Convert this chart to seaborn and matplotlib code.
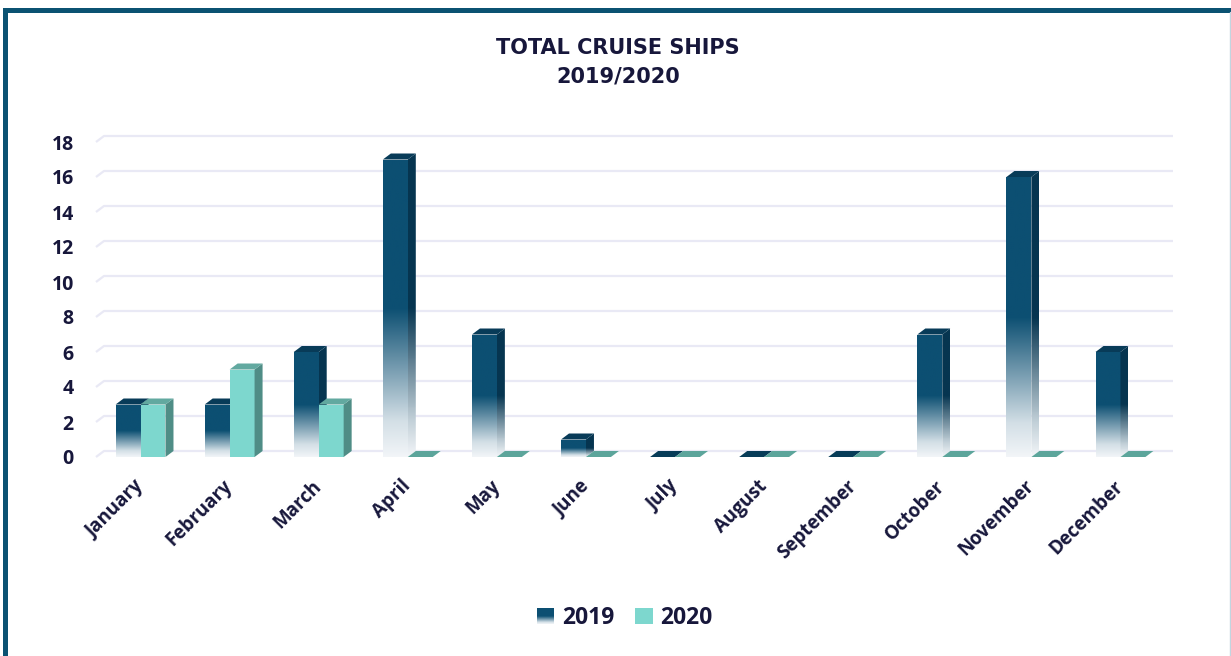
import numpy as np
import pandas as pd
import matplotlib
matplotlib.use("Agg")
import matplotlib.pyplot as plt
import seaborn as sns
from matplotlib.patches import Polygon, Rectangle
from matplotlib.colors import LinearSegmentedColormap
from matplotlib.legend_handler import HandlerBase

months = ["January", "February", "March", "April", "May", "June",
          "July", "August", "September", "October", "November", "December"]
ships_2019 = [3, 3, 6, 17, 7, 1, 0, 0, 0, 7, 16, 6]
ships_2020 = [3, 5, 3, 0, 0, 0, 0, 0, 0, 0, 0, 0]
years = ["2019", "2020"]
y_ticks = list(range(0, 20, 2))

df = pd.DataFrame({
    "Month": months * 2,
    "Year": [years[0]] * 12 + [years[1]] * 12,
    "Ships": ships_2019 + ships_2020,
})

W, H = 1231, 656
DX, DY = 8, 6  # fake 3d depth, pixels
TXT = "#17173b"

sns.set_theme(style="white")
plt.rcParams["font.family"] = ["Open Sans", "DejaVu Sans"]

fig = plt.figure(figsize=(W / 100, H / 100), dpi=100)
fig.patch.set_facecolor("white")
ax = fig.add_axes([96 / W, 1 - 457 / H, 1069 / W, 315 / H])

pal = {"2019": "#0c4f72", "2020": "#7dd7ce"}
sns.barplot(data=df, x="Month", y="Ships", hue="Year", palette=pal,
            width=0.56, saturation=1, legend=False, ax=ax, zorder=2,
            edgecolor="none", linewidth=0)
ax.set_xlim(-0.5, 11.5)
ax.set_ylim(0, 18)
ax.set_autoscale_on(False)
sns.despine(ax=ax, left=True, bottom=True)
ax.set_xlabel("")
ax.set_ylabel("")

grad_2019 = LinearSegmentedColormap.from_list(
    "g19", [(0.0, "#f2f5f8"), (0.12, "#d3dfe6"), (0.5, "#0c4f72"), (1.0, "#0c4f72")])
grad_side = LinearSegmentedColormap.from_list(
    "gs19", [(0.0, "#f2f5f8"), (0.12, "#c2d0d8"), (0.5, "#063550"), (1.0, "#063550")])

to_px = ax.transData.transform
to_data = ax.transData.inverted().transform

# back-wall gridlines
for v in y_ticks:
    fx, fy = to_px((-0.5, v))
    rx, _ = to_px((11.5, v))
    pts = to_data([(fx, fy), (fx + DX, fy + DY), (rx + DX, fy + DY)])
    ax.plot(pts[:, 0], pts[:, 1], color="#e9e9f5", lw=1.6, zorder=0.5,
            clip_on=False, solid_capstyle="butt")

styles = {
    "2019": dict(top="#083b58", side=None, flat="#073c58"),
    "2020": dict(top="#62a9a0", side="#4f8d86", flat="#5ca59b"),
}

for year, cont in zip(years, ax.containers):
    st = styles[year]
    z = 2 if year == "2019" else 3
    for rect in cont.patches:
        x0, w, h = rect.get_x(), rect.get_width(), rect.get_height()
        px0, py0 = to_px((x0, 0))
        px1, py1 = to_px((x0 + w, h))
        rect.set_zorder(z)
        top = Polygon(to_data([(px0, py1), (px1, py1), (px1 + DX, py1 + DY), (px0 + DX, py1 + DY)]),
                      closed=True, facecolor=st["top"] if h > 0 else st["flat"],
                      edgecolor="none", zorder=z + 0.2)
        ax.add_patch(top)
        if h <= 0:
            continue
        side_pts = to_data([(px1, py0), (px1, py1), (px1 + DX, py1 + DY), (px1 + DX, py0 + DY)])
        side = Polygon(side_pts, closed=True, edgecolor="none",
                       facecolor=st["side"] if st["side"] else "none", zorder=z + 0.1)
        ax.add_patch(side)
        if year == "2019":
            rect.set_facecolor("none")
            g = np.linspace(0, 1, 256).reshape(-1, 1)
            im = ax.imshow(g, cmap=grad_2019, vmin=0, vmax=1, origin="lower",
                           extent=(x0, x0 + w, 0, h), aspect="auto", zorder=z,
                           interpolation="bilinear")
            im.set_clip_path(rect)
            ytop = side_pts[:, 1].max()
            gs = np.clip(np.linspace(0, ytop / h, 256), 0, 1).reshape(-1, 1)
            im2 = ax.imshow(gs, cmap=grad_side, vmin=0, vmax=1, origin="lower",
                            extent=(side_pts[:, 0].min(), side_pts[:, 0].max(), 0, ytop),
                            aspect="auto", zorder=z + 0.1, interpolation="bilinear")
            im2.set_clip_path(side)

ax.set_xlim(-0.5, 11.5)
ax.set_ylim(0, 18)

ax.set_yticks(y_ticks)
ax.tick_params(axis="y", length=0, pad=16, labelsize=14, labelcolor=TXT)
ax.set_xticks(range(len(months)))
ax.set_xticklabels(months, rotation=45, ha="right", va="center",
                   rotation_mode="anchor", fontsize=13.5)
ax.tick_params(axis="x", length=0, pad=19, labelcolor=TXT)
for lab in ax.get_xticklabels() + ax.get_yticklabels():
    lab.set_fontweight("bold")

fig.text(618 / W, 1 - 62 / H, "TOTAL CRUISE SHIPS\n2019/2020", ha="center", va="center",
         fontsize=15, fontweight="bold", color=TXT, linespacing=1.5,
         family=["DejaVu Sans"])


class GradientHandler(HandlerBase):
    def create_artists(self, legend, orig_handle, xdescent, ydescent,
                       width, height, fontsize, trans):
        n = 16
        arts = []
        for i in range(n):
            c = grad_2019((i + 0.5) / n)
            arts.append(Rectangle((-xdescent, -ydescent + i * height / n), width,
                                  height / n * 1.05, facecolor=c, edgecolor="none",
                                  transform=trans))
        return arts


h19 = Rectangle((0, 0), 1, 1, facecolor=pal["2019"])
h20 = Rectangle((0, 0), 1, 1, facecolor=pal["2020"], edgecolor="none")
fig.legend(handles=[h19, h20], labels=years, loc="center",
           bbox_to_anchor=(625 / W, 1 - 618 / H), ncol=2, frameon=False,
           handlelength=0.75, handleheight=0.75, handletextpad=0.35,
           columnspacing=0.9, labelcolor=TXT,
           prop={"weight": "bold", "size": 16.5},
           handler_map={h19: GradientHandler()})

# outer frame
fig.add_artist(Rectangle((5 / W, -0.1), 1.1, 1 - 9.5 / H + 0.1, transform=fig.transFigure,
                         fill=False, edgecolor="#0b5272", lw=3.6, zorder=10))
fig.add_artist(plt.Line2D([1229.5 / W] * 2, [0, 1 - 12 / H], transform=fig.transFigure,
                          color="#c2d6e0", lw=1, zorder=10))

fig.savefig("out.png", dpi=100)
